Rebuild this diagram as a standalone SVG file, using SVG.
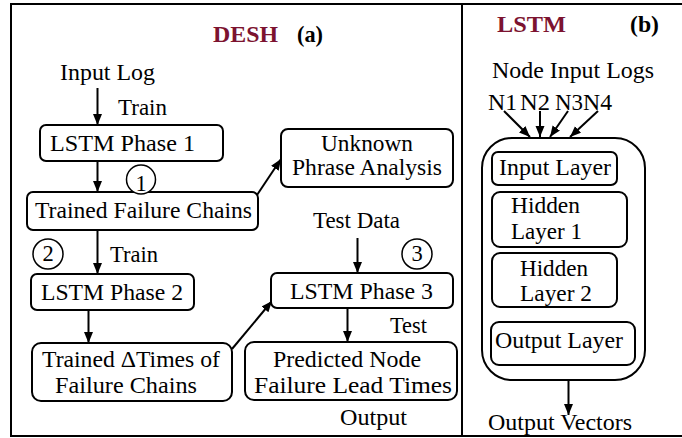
<svg xmlns="http://www.w3.org/2000/svg" width="682" height="438" viewBox="0 0 682 438">
<style>
text{font-family:'Liberation Serif',serif;font-size:22.5px;fill:#000}
.t{font-weight:bold}
.m{fill:#7c1330}
.box{fill:#fff;stroke:#000;stroke-width:2}
.frame{fill:none;stroke:#000;stroke-width:2}
.c{fill:#fff;stroke:#000;stroke-width:1.5}
.ln{stroke:#000;stroke-width:2;fill:none;marker-end:url(#ah)}
</style>
<defs>
<marker id="ah" markerUnits="userSpaceOnUse" markerWidth="12" markerHeight="10" refX="11" refY="4.5" orient="auto">
<path d="M0,0 L11,4.5 L0,9 z" fill="#000"/>
</marker>
</defs>
<rect width="682" height="438" fill="#fff"/>
<g id="frame">
<rect class="frame" x="11" y="4" width="690" height="432"/>
<line class="frame" x1="462" y1="4" x2="462" y2="436"/>
</g>
<g id="titles">
<text class="t m" x="213" y="42" textLength="65" lengthAdjust="spacingAndGlyphs">DESH</text>
<text class="t" x="297" y="42" textLength="26" lengthAdjust="spacingAndGlyphs">(a)</text>
<text class="t m" x="497" y="32" textLength="69" lengthAdjust="spacingAndGlyphs">LSTM</text>
<text class="t" x="630" y="32" textLength="29" lengthAdjust="spacingAndGlyphs">(b)</text>
</g>
<g id="connectors">
<line class="ln" x1="97.5" y1="88" x2="97.5" y2="125"/>
<line class="ln" x1="97.5" y1="161" x2="97.5" y2="192"/>
<line class="ln" x1="257" y1="195" x2="281" y2="159"/>
<line class="ln" x1="97.5" y1="230" x2="97.5" y2="274"/>
<line class="ln" x1="88.5" y1="310" x2="88.5" y2="343"/>
<line class="ln" x1="232" y1="349" x2="272" y2="301"/>
<line class="ln" x1="357.5" y1="238" x2="357.5" y2="273"/>
<line class="ln" x1="347.5" y1="308" x2="347.5" y2="342"/>
<line class="ln" x1="504" y1="111" x2="530" y2="137"/>
<line class="ln" x1="540" y1="111" x2="540" y2="137"/>
<line class="ln" x1="568" y1="111" x2="550" y2="137"/>
<line class="ln" x1="598" y1="111" x2="570" y2="137"/>
<line class="ln" x1="568.5" y1="380" x2="568.5" y2="415"/>
</g>
<g id="labels">
<text x="60" y="80" textLength="95" lengthAdjust="spacingAndGlyphs">Input Log</text>
<text x="118" y="115" textLength="49" lengthAdjust="spacingAndGlyphs">Train</text>
<text x="110" y="262" textLength="48" lengthAdjust="spacingAndGlyphs">Train</text>
<text x="313" y="228" textLength="87" lengthAdjust="spacingAndGlyphs">Test Data</text>
<text x="390" y="333" textLength="37" lengthAdjust="spacingAndGlyphs">Test</text>
<text x="340" y="425" textLength="67" lengthAdjust="spacingAndGlyphs">Output</text>
<text x="492" y="78" textLength="162" lengthAdjust="spacingAndGlyphs">Node Input Logs</text>
<text x="488" y="110" textLength="29" lengthAdjust="spacingAndGlyphs">N1</text>
<text x="520" y="110" textLength="30" lengthAdjust="spacingAndGlyphs">N2</text>
<text x="555" y="110" textLength="28" lengthAdjust="spacingAndGlyphs">N3</text>
<text x="583" y="110" textLength="29" lengthAdjust="spacingAndGlyphs">N4</text>
<text x="488" y="430" textLength="144" lengthAdjust="spacingAndGlyphs">Output Vectors</text>
</g>
<g id="lstm1">
<rect class="box" x="40" y="125" width="183" height="36" rx="6"/>
<text x="50" y="151" textLength="145" lengthAdjust="spacingAndGlyphs">LSTM Phase 1</text>
</g>
<g id="tfc">
<rect class="box" x="27" y="192" width="231" height="38" rx="6"/>
<text x="35" y="218" textLength="217" lengthAdjust="spacingAndGlyphs">Trained Failure Chains</text>
</g>
<g id="circle1">
<circle class="c" cx="141" cy="179.5" r="14.5"/>
<text x="141" y="191" text-anchor="middle">1</text>
</g>
<g id="unknown">
<rect class="box" x="281" y="129" width="172" height="58" rx="7"/>
<text x="321" y="151" textLength="92" lengthAdjust="spacingAndGlyphs">Unknown</text>
<text x="292" y="175" textLength="150" lengthAdjust="spacingAndGlyphs">Phrase Analysis</text>
</g>
<g id="circle2">
<circle class="c" cx="48" cy="254" r="15"/>
<text x="48" y="261" text-anchor="middle">2</text>
</g>
<g id="lstm2">
<rect class="box" x="31" y="274" width="163" height="36" rx="6"/>
<text x="41" y="300" textLength="142" lengthAdjust="spacingAndGlyphs">LSTM Phase 2</text>
</g>
<g id="dtimes">
<rect class="box" x="32" y="343" width="200" height="58" rx="9"/>
<text x="42" y="367" textLength="178" lengthAdjust="spacingAndGlyphs">Trained ΔTimes of</text>
<text x="55" y="393" textLength="142" lengthAdjust="spacingAndGlyphs">Failure Chains</text>
</g>
<g id="circle3">
<circle class="c" cx="417" cy="254" r="15"/>
<text x="417" y="261" text-anchor="middle">3</text>
</g>
<g id="lstm3">
<rect class="box" x="271" y="273" width="182" height="35" rx="6"/>
<text x="290" y="299" textLength="143" lengthAdjust="spacingAndGlyphs">LSTM Phase 3</text>
</g>
<g id="predicted">
<rect class="box" x="245" y="342" width="212" height="58" rx="9"/>
<text x="273" y="367" textLength="148" lengthAdjust="spacingAndGlyphs">Predicted Node</text>
<text x="254" y="393" textLength="198" lengthAdjust="spacingAndGlyphs">Failure Lead Times</text>
</g>
<g id="lstm-model">
<rect class="box" x="482" y="138" width="163" height="242" rx="30"/>
</g>
<g id="input-layer">
<rect class="box" x="492" y="152" width="125" height="33" rx="6"/>
<text x="499" y="175" textLength="112" lengthAdjust="spacingAndGlyphs">Input Layer</text>
</g>
<g id="hidden1">
<rect class="box" x="492" y="192" width="135" height="55" rx="8"/>
<text x="511" y="213" textLength="69" lengthAdjust="spacingAndGlyphs">Hidden</text>
<text x="511" y="239" textLength="71" lengthAdjust="spacingAndGlyphs">Layer 1</text>
</g>
<g id="hidden2">
<rect class="box" x="492" y="253" width="125" height="54" rx="8"/>
<text x="520" y="276" textLength="68" lengthAdjust="spacingAndGlyphs">Hidden</text>
<text x="520" y="301" textLength="72" lengthAdjust="spacingAndGlyphs">Layer 2</text>
</g>
<g id="output-layer">
<rect class="box" x="491" y="322" width="144" height="43" rx="8"/>
<text x="495" y="348" textLength="128" lengthAdjust="spacingAndGlyphs">Output Layer</text>
</g>
</svg>
